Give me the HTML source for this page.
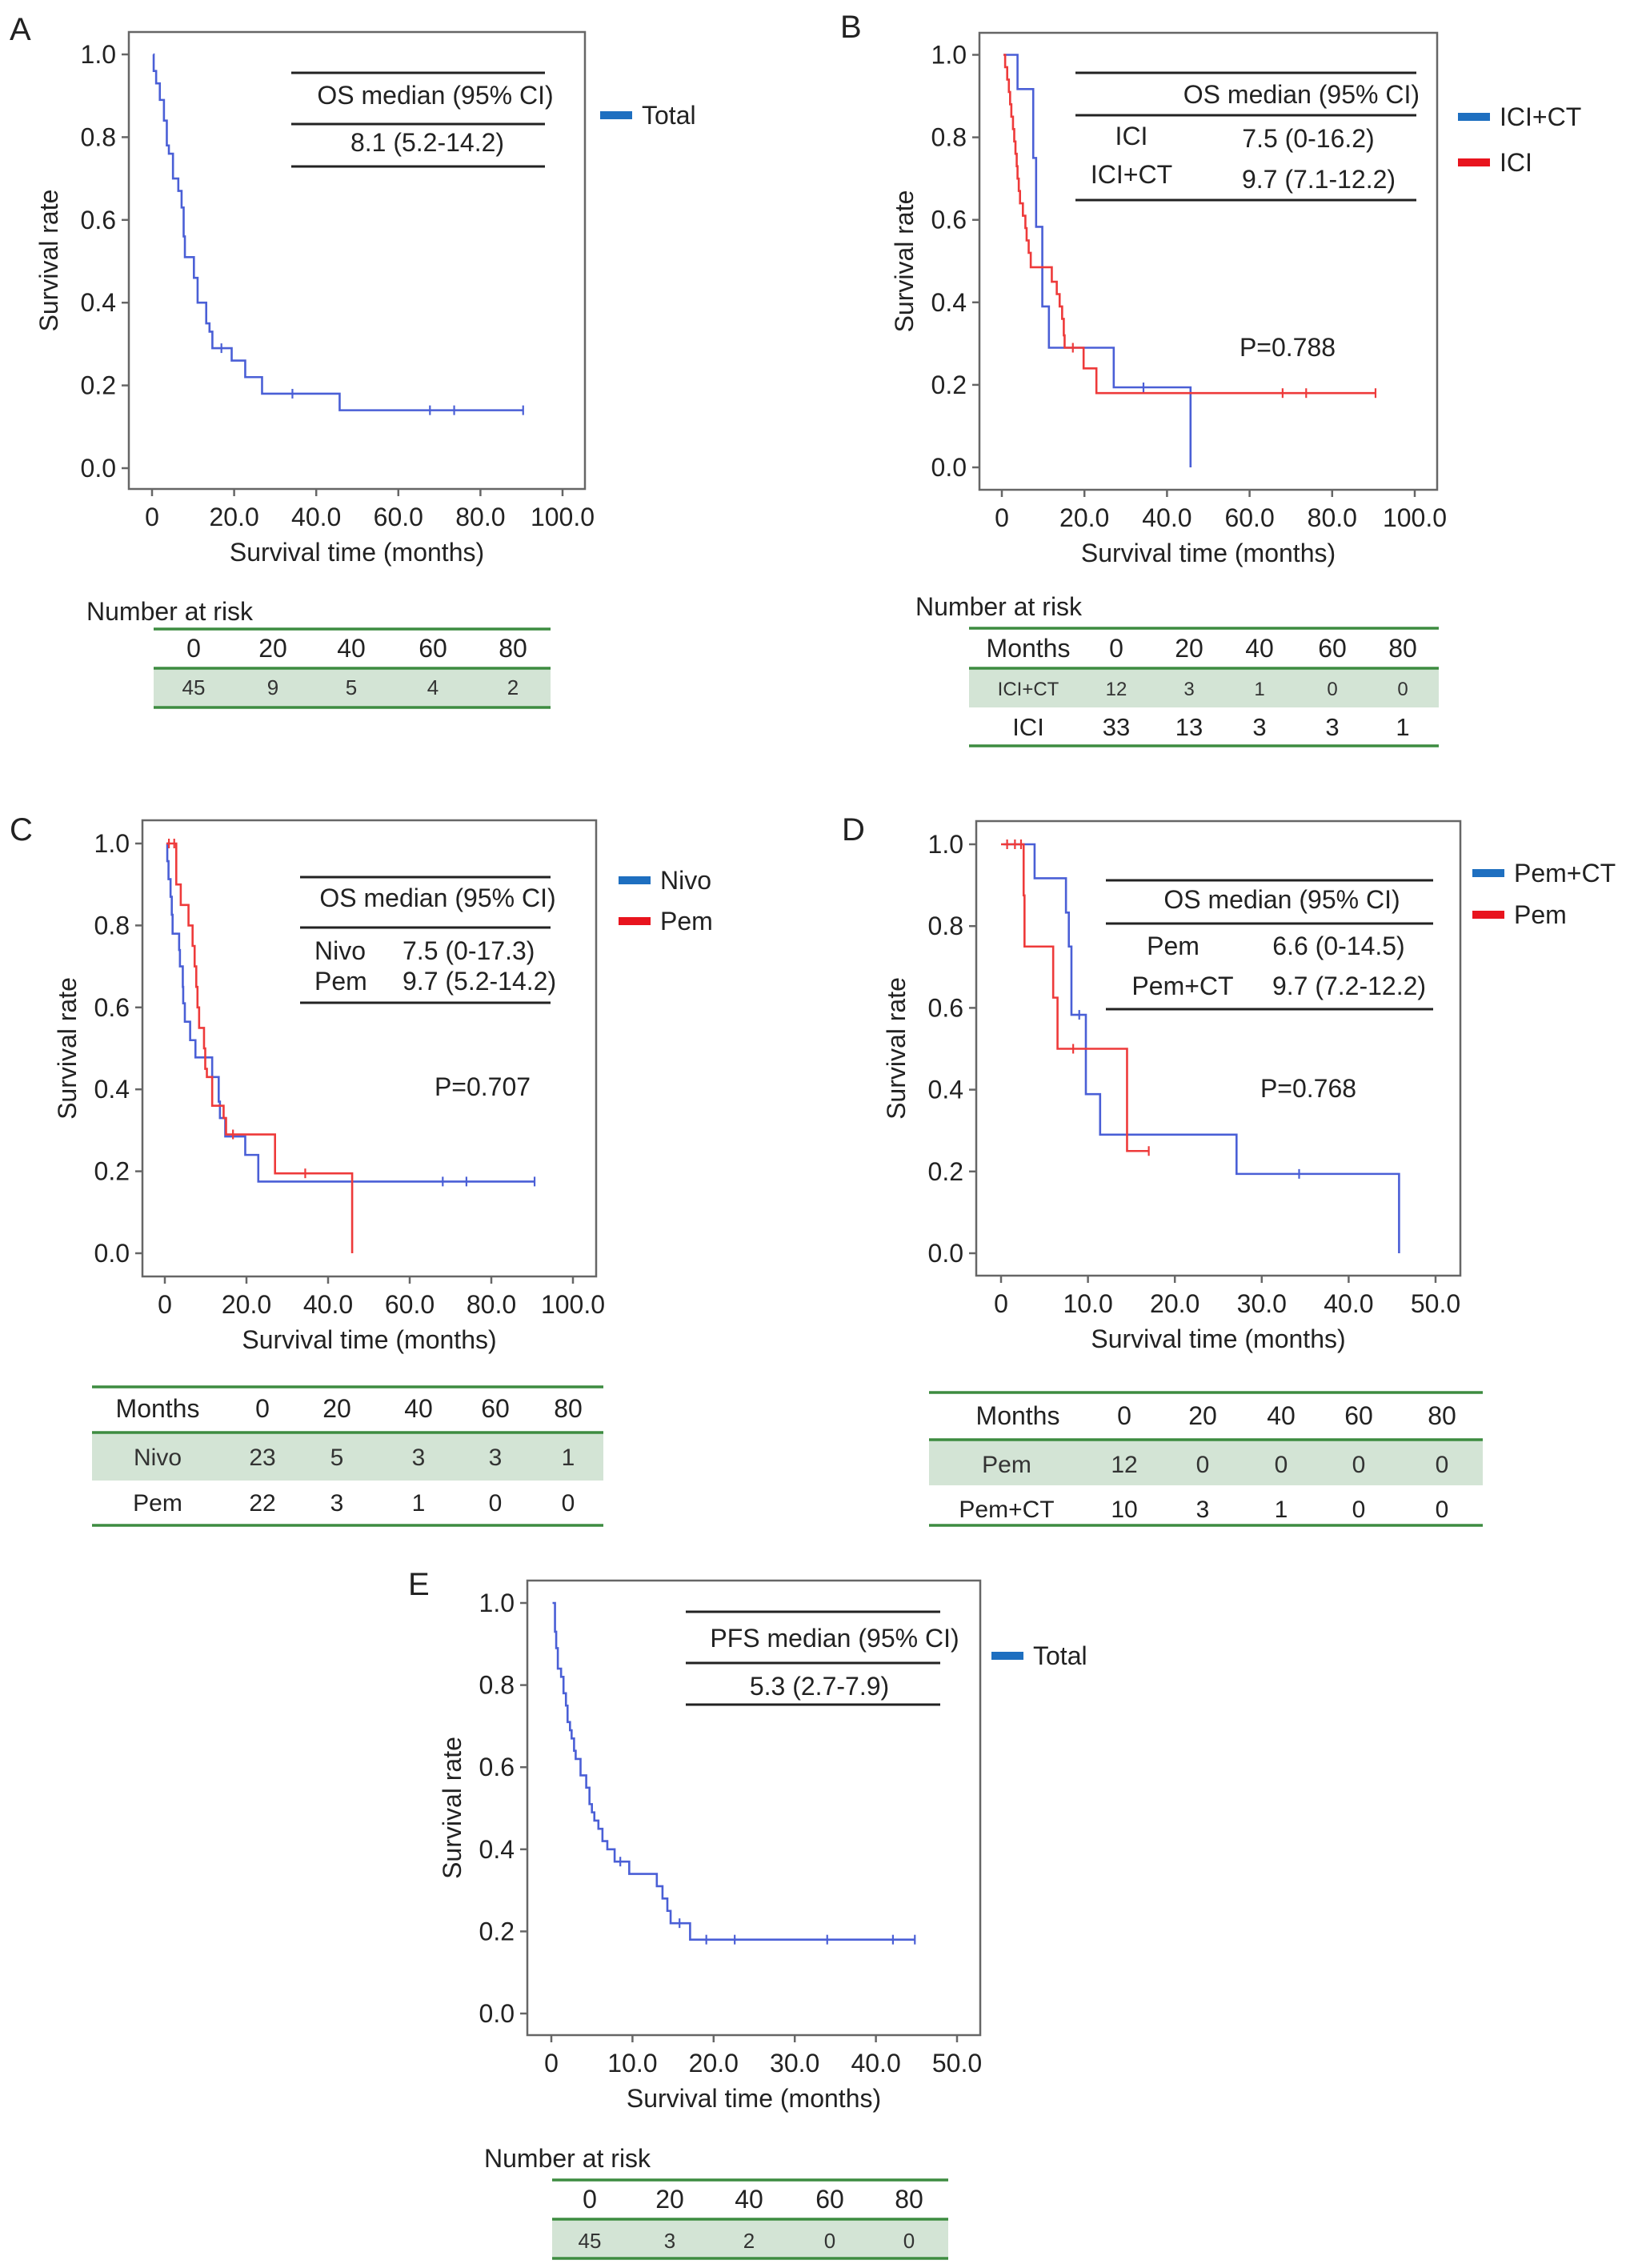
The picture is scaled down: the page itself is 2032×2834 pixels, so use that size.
<!DOCTYPE html>
<html><head><meta charset="utf-8"><style>
body{margin:0;background:#fff}
svg{display:block;font-family:"Liberation Sans",Arial,sans-serif}
</style></head><body>
<svg id="fig" xmlns="http://www.w3.org/2000/svg" width="2032" height="2834" viewBox="0 0 2032 2834"></svg>
<script>
// ---- Panel A data (OS, total) ----
const aTimes=[0.4,1.0,1.9,2.9,3.6,4.1,5.1,6.4,7.2,7.7,8.0,10.2,11.1,13.2,14.0,14.7,19.4,22.7,26.8,45.7];
const aSurv=[0.96,0.93,0.89,0.84,0.78,0.76,0.70,0.67,0.63,0.56,0.51,0.46,0.40,0.35,0.33,0.29,0.26,0.22,0.18,0.14];
const aCensor=[16.9,34.2,67.7,73.6,90.4];
const aEnd=90.4;
// ---- Panel B data ----
const bIctTimes=[3.8,7.6,8.3,9.8,11.4,27.1,45.7];
const bIctSurv=[0.917,0.75,0.583,0.39,0.29,0.194,0];
const bIctCensor=[34.3];
const bIctEnd=45.7;
const bIciTimes=[0.8,1.3,1.7,2.0,2.3,2.7,3.0,3.3,3.6,3.8,4.1,4.4,5.1,5.7,6.0,6.5,7.0,12.1,13.3,14.0,14.6,15.0,15.2,19.8,22.9];
const bIciSurv=[0.97,0.94,0.91,0.88,0.85,0.82,0.79,0.76,0.73,0.70,0.67,0.64,0.61,0.58,0.55,0.52,0.485,0.45,0.42,0.39,0.36,0.32,0.29,0.24,0.18];
const bIciCensor=[17.2,68,73.7,90.5];
const bIciEnd=90.5;
// ---- Panel C data ----
const cNivoTimes=[0.6,0.9,1.4,1.7,1.9,3.5,3.7,4.4,4.5,4.9,6.2,7.5,11.6,13.2,13.5,14.8,19.7,22.9];
const cNivoSurv=[0.957,0.913,0.87,0.826,0.78,0.74,0.70,0.65,0.61,0.565,0.52,0.478,0.43,0.37,0.33,0.285,0.24,0.175];
const cNivoCensor=[68.1,73.9,90.6];
const cNivoEnd=90.6;
const cPemTimes=[2.8,3.9,5.8,6.8,7.3,7.7,8.0,8.4,9.6,9.9,10.3,11.6,14.4,15.0,27.0,45.9];
const cPemSurv=[0.90,0.85,0.80,0.75,0.70,0.65,0.60,0.55,0.50,0.45,0.43,0.36,0.33,0.29,0.195,0];
const cPemCensor=[1.0,2.3,16.7,34.4];
const cPemEnd=45.9;
// ---- Panel D data ----
const dPctTimes=[3.86,7.47,7.8,8.1,9.76,11.4,27.1,45.8];
const dPctSurv=[0.917,0.833,0.75,0.583,0.389,0.29,0.194,0];
const dPctCensor=[9.0,34.3];
const dPctEnd=45.8;
const dPemTimes=[2.6,2.7,6.0,6.5,14.5];
const dPemSurv=[0.875,0.75,0.625,0.5,0.25];
const dPemCensor=[0.7,1.6,2.3,8.3,17.0];
const dPemEnd=17.0;
// ---- Panel E data (PFS) ----
const eTimes=[0.45,0.6,0.8,1.2,1.5,1.8,2.0,2.3,2.5,2.8,3.0,3.6,4.3,4.7,5.0,5.3,5.8,6.3,6.9,7.8,9.6,13.0,13.7,14.3,14.7,17.1];
const eSurv=[0.93,0.89,0.84,0.82,0.78,0.75,0.71,0.69,0.67,0.64,0.62,0.58,0.55,0.51,0.49,0.47,0.45,0.42,0.40,0.37,0.34,0.31,0.28,0.25,0.22,0.18];
const eCensor=[8.5,15.8,19.1,22.6,34.0,42.1,44.8];
const eEnd=44.8;
// ---- risk table data ----
const riskCols=["0","20","40","60","80"];
const aRisk=[45,9,5,4,2];
const bRiskIct=[12,3,1,0,0], bRiskIci=[33,13,3,3,1];
const cRiskNivo=[23,5,3,3,1], cRiskPem=[22,3,1,0,0];
const dRiskPem=[12,0,0,0,0], dRiskPct=[10,3,1,0,0];
const eRisk=[45,3,2,0,0];
const yTicks=[0,0.2,0.4,0.6,0.8,1.0];
const xTicks100=[0,20,40,60,80,100], xLabels100=["0","20.0","40.0","60.0","80.0","100.0"];
const xTicks50=[0,10,20,30,40,50], xLabels50=["0","10.0","20.0","30.0","40.0","50.0"];

const NS="http://www.w3.org/2000/svg";
const svg=document.getElementById('fig');
function el(tag,attrs,parent,text){const e=document.createElementNS(NS,tag);for(const k in attrs)e.setAttribute(k,attrs[k]);if(text!==undefined)e.textContent=text;(parent||svg).appendChild(e);return e;}
const BLUE="#4a5fd6", RED="#ee3a3a", LBLUE="#1e6fc0", LRED="#e8141e", GREEN="#3d8c40", FILL="#d3e4d5", TXT="#222";

function txt(x,y,s,opts,name,parent){
  const t=el('text',Object.assign({x:x,y:y,'font-size':opts.fs||32,fill:opts.fill||TXT,'text-anchor':opts.anchor||'middle'},opts.extra||{}),parent,s);
  
  
  return t;
}
function line(x1,y1,x2,y2,stroke,w,name,parent){
  const l=el('line',{x1:x1,y1:y1,x2:x2,y2:y2,stroke:stroke,'stroke-width':w},parent);
  
  
  return l;
}

function panel(p){
  const g=el('g',{});
  
  
  const sx=v=>p.x0+(v-p.xmin)/(p.xmax-p.xmin)*(p.x1-p.x0);
  const sy=v=>p.y0+v*p.y1;
  txt(p.letterX,p.letterY,p.id.toUpperCase(),{fs:40,anchor:'start'},'panel-letter-'+p.id,g);
  const box=el('rect',{x:p.box[0],y:p.box[1],width:p.box[2]-p.box[0],height:p.box[3]-p.box[1],fill:'none',stroke:'#666','stroke-width':2.5},g);
  
  
  yTicks.forEach(v=>{
    line(p.box[0]-9,sy(v),p.box[0],sy(v),'#666',2.5,'y-tick',g);
    txt(p.box[0]-16,sy(v)+11,v.toFixed(1),{anchor:'end'},'y-tick-label',g);
  });
  p.xt.forEach((v,i)=>{
    line(sx(v),p.box[3],sx(v),p.box[3]+9,'#666',2.5,'x-tick',g);
    txt(sx(v),p.box[3]+46,p.xl[i],{},'x-tick-label',g);
  });
  txt((p.box[0]+p.box[2])/2,p.box[3]+90,'Survival time (months)',{},'x-axis-title',g);
  txt(0,0,'Survival rate',{extra:{transform:`translate(${p.ytX},${(p.box[1]+p.box[3])/2}) rotate(-90)`}},'y-axis-title',g);
  p.series.forEach(s=>{
    let d=`M${sx(s.start)},${sy(1)}`;
    s.t.forEach((t,i)=>{d+=` H${sx(t)} V${sy(s.s[i])}`;});
    if(s.end>s.t[s.t.length-1]) d+=` H${sx(s.end)}`;
    const path=el('path',{d:d,fill:'none',stroke:s.color,'stroke-width':2.6},g);
    
    
    s.c.forEach(ct=>{
      let v=1;s.t.forEach((t,i)=>{if(t<=ct)v=s.s[i];});
      line(sx(ct),sy(v)-6,sx(ct),sy(v)+6,s.color,2.2,'censor-mark',g);
    });
  });
  return g;
}

const gA=panel({id:'a',box:[161,40,731,611],x0:190,x1:703,xmin:0,xmax:100,y0:585,y1:68-585,xt:xTicks100,xl:xLabels100,letterX:12,letterY:50,ytX:72,
  series:[{name:'total',start:0.3,t:aTimes,s:aSurv,c:aCensor,end:aEnd,color:BLUE}]});
const gB=panel({id:'b',box:[1224,41,1796,612],x0:1252,x1:1768,xmin:0,xmax:100,y0:584,y1:68.5-584,xt:xTicks100,xl:xLabels100,letterX:1050,letterY:47,ytX:1141,
  series:[{name:'ici-ct',start:0.4,t:bIctTimes,s:bIctSurv,c:bIctCensor,end:bIctEnd,color:BLUE},{name:'ici',start:0.4,t:bIciTimes,s:bIciSurv,c:bIciCensor,end:bIciEnd,color:RED}]});
const gC=panel({id:'c',box:[178,1025,745,1595],x0:206,x1:716,xmin:0,xmax:100,y0:1566,y1:1054-1566,xt:xTicks100,xl:xLabels100,letterX:12,letterY:1050,ytX:95,
  series:[{name:'nivo',start:0.4,t:cNivoTimes,s:cNivoSurv,c:cNivoCensor,end:cNivoEnd,color:BLUE},{name:'pem',start:0.4,t:cPemTimes,s:cPemSurv,c:cPemCensor,end:cPemEnd,color:RED}]});
const gD=panel({id:'d',box:[1220,1026,1825,1594],x0:1251,x1:1794,xmin:0,xmax:50,y0:1566,y1:1055-1566,xt:xTicks50,xl:xLabels50,letterX:1052,letterY:1050,ytX:1131,
  series:[{name:'pem-ct',start:0.3,t:dPctTimes,s:dPctSurv,c:dPctCensor,end:dPctEnd,color:BLUE},{name:'pem',start:0,t:dPemTimes,s:dPemSurv,c:dPemCensor,end:dPemEnd,color:RED}]});
const gE=panel({id:'e',box:[659,1975,1225,2543],x0:689,x1:1196,xmin:0,xmax:50,y0:2516,y1:2003-2516,xt:xTicks50,xl:xLabels50,letterX:510,letterY:1993,ytX:576,
  series:[{name:'total',start:0.15,t:eTimes,s:eSurv,c:eCensor,end:eEnd,color:BLUE}]});

function legend(g,x,y,color,label){
  const r=el('rect',{x:x,y:y-5,width:40,height:10,fill:color},g);
  
  
  txt(x+52,y+11,label,{anchor:'start'},'legend-label',g);
}
legend(gA,750,144,LBLUE,'Total');
legend(gB,1822,146,LBLUE,'ICI+CT');legend(gB,1822,203,LRED,'ICI');
legend(gC,773,1100,LBLUE,'Nivo');legend(gC,773,1151,LRED,'Pem');
legend(gD,1840,1091,LBLUE,'Pem+CT');legend(gD,1840,1143,LRED,'Pem');
legend(gE,1239,2069,LBLUE,'Total');

function hl(g,x1,x2,y){line(x1,y,x2,y,'#222',3,'median-table-rule',g);}
hl(gA,364,681,91);hl(gA,364,681,155);hl(gA,364,681,208);
txt(544,130,'OS median (95% CI)',{},'median-header',gA);txt(534,189,'8.1 (5.2-14.2)',{},'median-value',gA);
hl(gB,1344,1770,91);hl(gB,1344,1770,144);hl(gB,1344,1770,250);
txt(1774,129,'OS median (95% CI)',{anchor:'end'},'median-header',gB);
txt(1414,181,'ICI',{},'median-row-label',gB);txt(1635,184,'7.5 (0-16.2)',{},'median-value',gB);
txt(1414,229,'ICI+CT',{},'median-row-label',gB);txt(1648,235,'9.7 (7.1-12.2)',{},'median-value',gB);
txt(1609,445,'P=0.788',{},'p-value',gB);
hl(gC,375,688,1096);hl(gC,375,688,1159);hl(gC,375,688,1253);
txt(547,1133,'OS median (95% CI)',{},'median-header',gC);
txt(393,1199,'Nivo',{anchor:'start'},'median-row-label',gC);txt(503,1199,'7.5 (0-17.3)',{anchor:'start'},'median-value',gC);
txt(393,1237,'Pem',{anchor:'start'},'median-row-label',gC);txt(503,1237,'9.7 (5.2-14.2)',{anchor:'start'},'median-value',gC);
txt(603,1369,'P=0.707',{},'p-value',gC);
hl(gD,1382,1791,1100);hl(gD,1382,1791,1154);hl(gD,1382,1791,1261);
txt(1602,1135,'OS median (95% CI)',{},'median-header',gD);
txt(1466,1193,'Pem',{},'median-row-label',gD);txt(1673,1193,'6.6 (0-14.5)',{},'median-value',gD);
txt(1478,1243,'Pem+CT',{},'median-row-label',gD);txt(1686,1243,'9.7 (7.2-12.2)',{},'median-value',gD);
txt(1635,1371,'P=0.768',{},'p-value',gD);
hl(gE,857,1175,2014);hl(gE,857,1175,2078);hl(gE,857,1175,2130);
txt(1043,2058,'PFS median (95% CI)',{},'median-header',gE);txt(1024,2118,'5.3 (2.7-7.9)',{},'median-value',gE);

function risk(g,cfg){
  const tg=el('g',{},g);
  
  
  if(cfg.title) txt(cfg.title[0],cfg.title[1],'Number at risk',{anchor:'start'},'risk-table-title',tg);
  const f=el('rect',{x:cfg.x1,y:cfg.fill[0],width:cfg.x2-cfg.x1,height:cfg.fill[1]-cfg.fill[0],fill:FILL},tg);
  
  
  cfg.lines.forEach(y=>line(cfg.x1,y,cfg.x2,y,GREEN,3.5,'risk-table-rule',tg));
  if(cfg.monthsX) txt(cfg.monthsX,cfg.hy,'Months',{},'risk-header-label',tg);
  riskCols.forEach((c,i)=>txt(cfg.cols[i],cfg.hy,c,{},'risk-header-'+c,tg));
  cfg.rows.forEach(r=>{
    if(r.label) txt(cfg.labelX,r.y,r.label,{fs:r.fs,fill:r.fill},'risk-row-label',tg);
    r.vals.forEach((v,i)=>txt(cfg.cols[i],r.y,String(v),{fs:r.fs,fill:r.fill},'risk-value',tg));
  });
}
risk(gA,{title:[108,775],x1:192,x2:688,lines:[786,835,884],fill:[835,884],hy:821,cols:[242,341,439,541,641],
  rows:[{vals:aRisk,y:868,fs:26,fill:'#333'}]});
risk(gB,{title:[1144,769],x1:1211,x2:1798,lines:[785,835,932],fill:[835,884],hy:821,monthsX:1285,labelX:1285,cols:[1395,1486,1574,1665,1753],
  rows:[{label:'ICI+CT',vals:bRiskIct,y:869,fs:24,fill:'#333'},{label:'ICI',vals:bRiskIci,y:919,fs:31}]});
risk(gC,{x1:115,x2:754,lines:[1733,1790,1906],fill:[1790,1850],hy:1771,monthsX:197,labelX:197,cols:[328,421,523,619,710],
  rows:[{label:'Nivo',vals:cRiskNivo,y:1831,fs:30,fill:'#333'},{label:'Pem',vals:cRiskPem,y:1888,fs:30}]});
risk(gD,{x1:1161,x2:1853,lines:[1740,1799,1906],fill:[1799,1856],hy:1780,monthsX:1272,labelX:1258,cols:[1405,1503,1601,1698,1802],
  rows:[{label:'Pem',vals:dRiskPem,y:1840,fs:30,fill:'#333'},{label:'Pem+CT',vals:dRiskPct,y:1896,fs:30}]});
risk(gE,{title:[605,2708],x1:690,x2:1185,lines:[2724,2773,2822],fill:[2773,2822],hy:2759,cols:[737,837,936,1037,1136],
  rows:[{vals:eRisk,y:2809,fs:26,fill:'#333'}]});
</script>
</body></html>
